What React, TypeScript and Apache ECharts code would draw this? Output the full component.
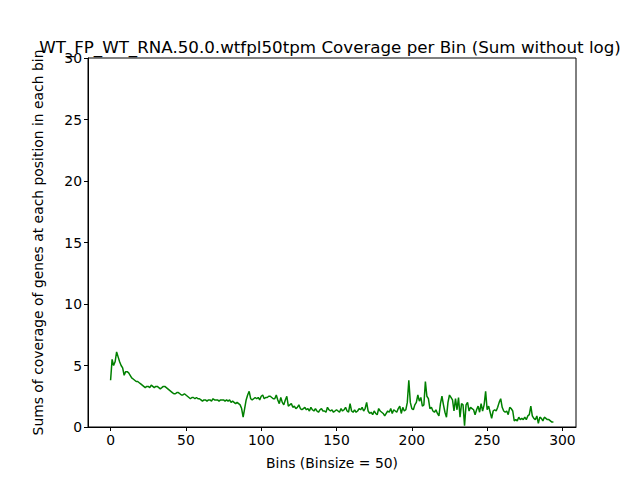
import React, { useEffect, useRef } from "react";
import * as echarts from "echarts";

const values: number[] = [
3.8,5.5,5.0,5.3,6.1,5.7,5.3,5.0,4.8,4.2,4.5,4.5,4.4,4.2,4.0,3.9,3.8,3.7,3.7,3.6,
3.5,3.4,3.3,3.2,3.3,3.3,3.2,3.4,3.3,3.2,3.3,3.3,3.2,3.1,3.2,3.3,3.3,3.2,3.1,3.0,
2.9,2.8,2.7,2.7,2.8,2.8,2.7,2.6,2.6,2.7,2.6,2.5,2.4,2.3,2.4,2.4,2.3,2.4,2.3,2.3,
2.2,2.1,2.2,2.2,2.1,2.2,2.2,2.1,2.3,2.2,2.2,2.2,2.1,2.2,2.2,2.2,2.1,2.2,2.1,2.2,
2.0,2.1,2.0,1.9,2.0,1.9,1.8,1.5,0.8,1.5,2.2,2.6,2.9,2.3,2.2,2.3,2.4,2.3,2.4,2.2,
2.5,2.6,2.3,2.4,2.4,2.5,2.5,2.4,2.3,2.3,2.6,2.2,1.9,2.4,2.0,1.8,2.2,2.5,1.7,1.8,
1.9,1.6,1.7,1.5,1.6,1.8,1.5,1.4,1.5,1.6,1.4,1.5,1.3,1.6,1.4,1.3,1.5,1.3,1.2,1.4,
1.5,1.3,1.3,1.2,1.6,1.4,1.3,1.4,1.2,1.3,1.4,1.3,1.2,1.5,1.3,1.4,1.6,1.3,1.2,1.9,
1.3,1.2,1.4,1.2,1.3,1.5,1.4,1.6,1.3,1.5,2.0,1.3,1.1,1.2,1.0,1.3,1.1,1.0,1.5,1.3,
1.2,1.1,0.9,1.1,1.3,1.2,1.5,1.1,1.4,1.3,1.2,1.5,1.7,1.1,1.6,1.3,1.4,2.0,3.8,2.0,
1.5,1.4,1.8,2.0,2.6,2.1,2.4,1.7,1.8,3.7,2.5,2.3,1.5,1.6,1.3,1.2,1.4,1.1,0.9,1.9,
2.5,1.8,1.2,0.8,2.0,2.6,2.4,2.2,1.3,2.3,1.4,2.4,0.8,1.9,1.8,0.1,1.8,2.0,1.3,1.6,
1.5,1.4,1.0,1.4,1.7,1.2,1.9,1.3,1.8,2.9,1.4,1.7,1.2,0.7,1.3,1.4,1.3,1.6,2.0,2.3,
1.6,1.3,1.2,1.3,1.0,1.6,1.5,1.3,0.5,0.6,0.5,0.8,0.6,0.7,0.6,0.8,0.6,0.9,1.0,1.7,
0.9,0.7,0.6,0.9,0.3,0.8,0.7,0.5,0.8,0.7,0.6,0.6,0.5,0.4,0.4
];
const xTicks = [0, 50, 100, 150, 200, 250, 300];
const title = "WT_FP_WT_RNA.50.0.wtfpl50tpm Coverage per Bin (Sum without log)";

export default function App() {
  const ref = useRef<HTMLDivElement>(null);
  useEffect(() => {
    const chart = echarts.init(ref.current!, null, { renderer: "svg" });
    const font = "DejaVu Sans";
    chart.setOption({
      animation: false,
      textStyle: { fontFamily: font },
      title: { text: title, left: 325, top: 33, textAlign: "center",
        textStyle: { fontFamily: font, fontSize: 16.7, fontWeight: "normal", color: "#000" } },
      grid: { left: 88, right: 64, top: 58, bottom: 53, show: true, borderColor: "#000", borderWidth: 1 },
      xAxis: {
        type: "value", min: -15, max: 309,
        name: "Bins (Binsize = 50)", nameLocation: "middle", nameGap: 29,
        nameTextStyle: { color: "#000", fontSize: 13.9 },
        axisLine: { show: true, onZero: false, lineStyle: { color: "#000" } },
        axisTick: { show: true, length: 4, lineStyle: { color: "#000" }, customValues: xTicks },
        axisLabel: { color: "#000", fontSize: 13.9, customValues: xTicks, margin: 6 },
        splitLine: { show: false },
      },
      yAxis: {
        type: "value", min: 0, max: 30, interval: 5,
        name: "Sums of coverage of genes at each position in each bin", nameLocation: "middle", nameGap: 43,
        nameTextStyle: { color: "#000", fontSize: 13.9 },
        axisLine: { show: true, onZero: false, lineStyle: { color: "#000" } },
        axisTick: { show: true, length: 4, lineStyle: { color: "#000" } },
        axisLabel: { color: "#000", fontSize: 13.9, margin: 6 },
        splitLine: { show: false },
      },
      series: [{
        type: "line", data: values.map((v, i) => [i, v]), showSymbol: false,
        lineStyle: { color: "#008000", width: 1.5 }, itemStyle: { color: "#008000" },
      }],
    });
    return () => chart.dispose();
  }, []);
  return <div ref={ref} style={{ width: 640, height: 480, margin: -8 }} />;
}
